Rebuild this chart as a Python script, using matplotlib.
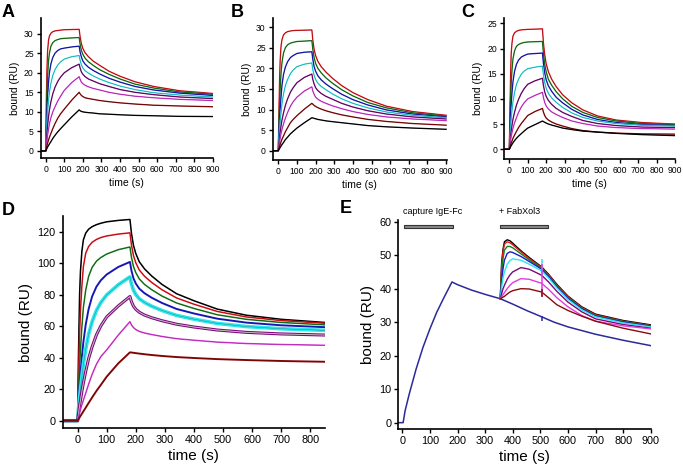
import matplotlib.pyplot as plt

plt.rcParams['font.family'] = ['Liberation Sans', 'DejaVu Sans']

RED, GREEN, BLUE, CYAN = '#e8141c', '#1a801a', '#1c1cc8', '#2ce6ec'
PURPLE, MAGENTA, DARKRED, BLACK, NAVY = '#7a0a78', '#e03ce0', '#8c0a0a', '#000000', '#2a2a9a'

# ---- panels A-C: 8 concentrations, association 0-180 s, dissociation to 900 s
T_ABC = [-30, 0, 3, 7, 10, 15, 20, 28, 38, 50, 65, 80, 100, 140, 180,
         185, 192, 200, 212, 230, 255, 290, 340, 400, 480, 580, 720, 900]
colors_ABC = [RED, GREEN, BLUE, CYAN, PURPLE, MAGENTA, DARKRED, BLACK]

A_y = [
    [0, 0, 12.5, 21.5, 25.5, 28.3, 29.4, 30.1, 30.5, 30.7, 30.8, 30.9, 31.0, 31.05, 31.1,
     29.2, 27.4, 26.2, 25.1, 24.1, 23.0, 21.9, 20.4, 19.1, 17.7, 16.5, 15.4, 14.7],
    [0, 0, 7.5, 15, 19, 23, 25, 26.8, 27.7, 28.2, 28.5, 28.7, 28.8, 28.9, 29.0,
     27.3, 25.7, 24.7, 23.7, 22.8, 21.9, 20.8, 19.6, 18.4, 17.1, 16.1, 15.1, 14.5],
    [0, 0, 5, 11, 14, 17.5, 20, 22.3, 23.9, 25.0, 25.7, 26.1, 26.3, 26.6, 26.8,
     25.3, 24.0, 23.0, 22.2, 21.4, 20.6, 19.7, 18.6, 17.6, 16.5, 15.6, 14.8, 14.2],
    [0, 0, 3.4, 7.5, 10, 12.8, 15, 17.3, 19.3, 20.8, 22.0, 22.8, 23.5, 24.1, 24.4,
     23.2, 22.0, 21.2, 20.5, 19.9, 19.2, 18.4, 17.5, 16.6, 15.7, 14.9, 14.3, 13.8],
    [0, 0, 2.1, 4.7, 6.5, 8.7, 10.5, 12.6, 14.6, 16.3, 17.8, 18.9, 20.0, 21.3, 22.2,
     21.2, 20.2, 19.6, 19.0, 18.4, 17.9, 17.2, 16.5, 15.7, 15.0, 14.4, 13.8, 13.4],
    [0, 0, 1.2, 2.8, 4, 5.5, 7, 8.5, 10.0, 11.3, 12.8, 14.0, 15.5, 17.5, 19.0,
     18.3, 17.6, 17.2, 16.8, 16.4, 16.0, 15.6, 15.0, 14.5, 14.0, 13.6, 13.2, 12.9],
    [0, 0, 0.6, 1.4, 2, 2.8, 3.5, 4.5, 5.7, 7.0, 8.4, 9.5, 10.7, 13.0, 15.0,
     14.6, 14.2, 13.9, 13.6, 13.4, 13.2, 12.9, 12.6, 12.3, 12.0, 11.7, 11.5, 11.3],
    [0, 0, 0.3, 0.7, 1, 1.4, 1.8, 2.4, 3.2, 4.0, 4.9, 5.7, 6.7, 8.7, 10.5,
     10.3, 10.1, 10.0, 9.9, 9.8, 9.7, 9.5, 9.4, 9.25, 9.1, 9.0, 8.85, 8.8],
]
B_y = [
    [0, 0, 9, 17.5, 22, 25.5, 27, 28.1, 28.6, 28.9, 29.05, 29.15, 29.2, 29.25, 29.3,
     26.9, 24.6, 23.1, 21.7, 20.4, 19.1, 17.6, 15.8, 14.1, 12.4, 10.8, 9.5, 8.6],
    [0, 0, 5.5, 11.5, 15, 19, 21.5, 23.7, 25.0, 25.7, 26.1, 26.3, 26.5, 26.6, 26.7,
     24.6, 22.6, 21.2, 20.0, 18.9, 17.7, 16.4, 14.8, 13.3, 11.7, 10.4, 9.2, 8.4],
    [0, 0, 3.7, 7.8, 10, 13.3, 16, 18.5, 20.3, 21.6, 22.6, 23.1, 23.6, 23.9, 24.0,
     22.2, 20.4, 19.3, 18.2, 17.2, 16.2, 15.1, 13.7, 12.4, 11.1, 9.9, 8.9, 8.2],
    [0, 0, 2.5, 5.3, 7, 9.4, 11.5, 13.8, 15.8, 17.3, 18.7, 19.6, 20.4, 21.0, 21.3,
     19.7, 18.3, 17.3, 16.4, 15.6, 14.8, 13.8, 12.6, 11.5, 10.4, 9.4, 8.6, 8.0],
    [0, 0, 1.5, 3.4, 4.5, 6.1, 7.5, 9.2, 11.0, 12.6, 14.2, 15.3, 16.5, 17.8, 18.6,
     17.3, 16.2, 15.3, 14.6, 13.9, 13.2, 12.5, 11.5, 10.6, 9.7, 8.9, 8.2, 7.7],
    [0, 0, 1.0, 2.2, 3, 4.2, 5.2, 6.5, 7.9, 9.3, 10.8, 11.9, 13.0, 14.5, 15.5,
     14.5, 13.7, 13.0, 12.5, 12.0, 11.5, 10.9, 10.2, 9.5, 8.8, 8.2, 7.7, 7.3],
    [0, 0, 0.5, 1.1, 1.5, 2.2, 2.8, 3.6, 4.6, 5.6, 6.8, 7.6, 8.5, 10.1, 11.5,
     11.3, 11.0, 10.75, 10.45, 10.1, 9.7, 9.25, 8.7, 8.2, 7.6, 7.1, 6.6, 6.2],
    [0, 0, 0.25, 0.55, 0.8, 1.15, 1.5, 2.0, 2.7, 3.3, 4.1, 4.7, 5.5, 6.8, 8.0,
     7.95, 7.85, 7.75, 7.6, 7.45, 7.25, 7.05, 6.8, 6.5, 6.1, 5.8, 5.5, 5.2],
]
C_y = [
    [0, 0, 7.5, 15, 19, 21.3, 22.5, 23.1, 23.4, 23.6, 23.7, 23.75, 23.8, 23.85, 23.9,
     21.2, 18.8, 17.0, 15.4, 13.9, 12.4, 10.8, 9.2, 7.8, 6.6, 5.8, 5.3, 5.0],
    [0, 0, 5, 10.3, 13, 16, 18, 19.5, 20.4, 20.8, 21.05, 21.2, 21.3, 21.35, 21.4,
     19.1, 16.9, 15.4, 13.9, 12.7, 11.4, 10.0, 8.5, 7.3, 6.3, 5.6, 5.1, 4.9],
    [0, 0, 3, 7, 9, 11.5, 13.5, 15.4, 16.8, 17.7, 18.3, 18.6, 18.9, 19.0, 19.1,
     17.1, 15.2, 13.8, 12.6, 11.5, 10.3, 9.2, 7.9, 6.8, 5.9, 5.3, 4.9, 4.7],
    [0, 0, 2, 4.5, 6, 7.9, 9.5, 11.2, 12.8, 13.9, 14.9, 15.5, 16.0, 16.3, 16.5,
     14.8, 13.3, 12.1, 11.1, 10.2, 9.3, 8.3, 7.2, 6.3, 5.6, 5.1, 4.75, 4.6],
    [0, 0, 1.2, 2.7, 3.5, 4.9, 6, 7.3, 8.7, 9.9, 11.1, 12.0, 12.9, 13.6, 14.1,
     12.7, 11.4, 10.5, 9.7, 8.9, 8.1, 7.3, 6.5, 5.7, 5.1, 4.7, 4.4, 4.3],
    [0, 0, 0.8, 1.8, 2.5, 3.4, 4.2, 5.2, 6.2, 7.3, 8.4, 9.2, 10.0, 10.7, 11.3,
     10.3, 9.3, 8.6, 8.0, 7.4, 6.9, 6.3, 5.6, 5.1, 4.6, 4.3, 4.1, 4.0],
    [0, 0, 0.4, 0.9, 1.2, 1.7, 2.2, 2.8, 3.5, 4.3, 5.1, 5.8, 6.7, 7.5, 8.1,
     7.4, 6.7, 6.2, 5.8, 5.4, 5.0, 4.6, 4.1, 3.7, 3.4, 3.2, 3.05, 3.0],
    [0, 0, 0.2, 0.5, 0.7, 1.0, 1.3, 1.7, 2.15, 2.6, 3.1, 3.6, 4.2, 4.9, 5.6,
     5.5, 5.35, 5.2, 5.0, 4.8, 4.55, 4.2, 3.9, 3.6, 3.4, 3.15, 2.9, 2.7],
]

# ---- panel D
T_D = [-50, 0, 3, 7, 10, 15, 20, 28, 38, 50, 65, 80, 100, 140, 180,
       185, 192, 200, 212, 230, 255, 290, 340, 400, 480, 580, 700, 850]
colors_D = [BLACK, RED, GREEN, BLUE, CYAN, PURPLE, MAGENTA, DARKRED]
D_y = [
    [0, 0, 40, 80, 95, 108, 115, 119.3, 121.8, 123.4, 124.7, 125.6, 126.5, 127.4, 128,
     119.5, 111.6, 106.4, 101.1, 96.6, 92.0, 86.7, 80.8, 76.3, 71.0, 67.1, 64.5, 62.5],
    [0, 0, 25, 55, 70, 86, 98, 106.5, 110.8, 113.5, 115.3, 116.5, 117.5, 118.7, 119.5,
     112.0, 105.1, 100.5, 95.9, 91.9, 87.9, 83.3, 78.1, 74.1, 69.5, 66.0, 63.7, 62.0],
    [0, 0, 15, 35, 45, 60, 72, 83, 91.8, 97.5, 101.5, 103.8, 106, 108.8, 110.5,
     104.1, 98.1, 94.2, 90.2, 86.7, 83.3, 79.3, 74.9, 71.4, 67.4, 64.5, 62.5, 61.0],
    [0, 0, 10, 23, 30, 41, 50, 61, 71, 79, 85.3, 89.3, 93, 97.8, 101,
     95.6, 90.6, 87.3, 84.0, 81.1, 78.2, 74.9, 71.1, 68.2, 64.9, 62.4, 60.7, 59.5],
    [0, 0, 6.5, 15, 20, 28.5, 36, 45.5, 55, 63, 70.2, 75.2, 80, 86.5, 91.5,
     87.1, 83.0, 80.3, 77.6, 75.2, 72.8, 70.1, 67.0, 64.6, 61.9, 59.9, 58.5, 57.5],
    [0, 0, 4.2, 9.6, 13, 18.8, 24, 31.3, 39.5, 47, 54.7, 60.3, 66, 73, 79,
     75.8, 72.9, 70.9, 69.0, 67.2, 65.5, 63.6, 61.4, 59.6, 57.7, 56.2, 55.2, 54.5],
    [0, 0, 2.1, 5.0, 7, 10.2, 13, 17.5, 23.2, 29.5, 36, 40.8, 45, 54.5, 63,
     61.0, 59.3, 58.0, 56.8, 55.8, 54.8, 53.6, 52.2, 51.2, 50.0, 49.1, 48.5, 48.0],
    [0, 0, 0.9, 2.1, 3, 4.5, 6, 8.3, 11.3, 14.8, 19, 22.8, 28, 36.5, 43.5,
     43.4, 43.2, 43.0, 42.7, 42.3, 41.8, 41.2, 40.5, 39.9, 39.2, 38.6, 38.0, 37.5],
]

# ---- panel E: IgE-Fc capture, then FabXol3 injections
T_cap = [-15, 0, 3, 10, 25, 50, 75, 100, 125, 150, 180, 200, 250, 300, 355, 400, 450, 505, 550, 600, 700, 800, 900]
cap_y = [0, 0, 0, 3.5, 8.5, 16, 22.5, 28, 33, 37.2, 42, 41.2, 39.6, 38.3, 37, 35.4, 33.5, 31.6, 30, 28.6, 26.4, 24.6, 23]
T_E = [355, 360, 365, 370, 380, 390, 400, 430, 460, 505, 530, 560, 600, 650, 700, 800, 900]
colors_E = [BLACK, RED, GREEN, BLUE, CYAN, PURPLE, MAGENTA, DARKRED]
E_y = [
    [37, 48, 51.8, 54, 54.6, 54.3, 53.6, 51.3, 49.3, 46.5, 44.3, 41.3, 37.8, 34.6, 32.4, 30.5, 29.2],
    [37, 47, 51, 53.3, 54, 53.7, 53.1, 51, 49, 46.3, 44.1, 41.1, 37.6, 34.4, 32.2, 30.3, 29.0],
    [37, 45, 49, 51.5, 52.6, 52.6, 52.2, 50.4, 48.6, 46.1, 43.9, 40.9, 37.4, 34.2, 32.0, 30.2, 28.9],
    [37, 42.5, 46, 48.5, 50.5, 51, 50.8, 49.6, 48.1, 45.8, 43.6, 40.6, 37.1, 34.0, 31.8, 30.0, 28.8],
    [37, 40.5, 43.2, 45, 47.3, 48.4, 48.9, 48.5, 47.3, 45.3, 43.2, 40.2, 36.8, 33.7, 31.6, 29.8, 28.6],
    [37, 38.5, 40, 41, 42.8, 44.1, 45.0, 46.3, 45.8, 44.0, 42.0, 39.2, 36.0, 33.1, 31.0, 29.3, 28.2],
    [37, 37.6, 38.2, 38.8, 40, 41.0, 41.8, 43.0, 42.8, 41.6, 39.8, 37.3, 34.6, 32.0, 30.3, 28.9, 28.0],
    [37, 37.2, 37.5, 37.7, 38.4, 39.0, 39.4, 40, 39.9, 39.0, 37.3, 35.2, 33.5, 31.8, 30.3, 28.2, 26.5],
]
# injection artefacts (vertical spikes) at 505 s
spike_t = 505
spike_colors = [CYAN, MAGENTA, DARKRED, NAVY]
spike_lo = [44.0, 37.8, 37.5, 30.3]
spike_hi = [48.8, 47.3, 40.0, 31.8]
bars = [(7, 182, 'capture IgE-Fc'), (354, 529, '+ FabXol3')]


def style(ax, xlim, ylim, xticks, yticks, fs_tick, fs_lab):
    for s in ['top', 'right']:
        ax.spines[s].set_visible(False)
    for s in ['left', 'bottom']:
        ax.spines[s].set_linewidth(1.2)
    ax.set_xlim(*xlim); ax.set_ylim(*ylim)
    ax.set_xticks(xticks); ax.set_yticks(yticks)
    ax.tick_params(direction='out', length=3, width=1, labelsize=fs_tick, pad=2)
    ax.set_xlabel('time (s)', fontsize=fs_lab, labelpad=3)
    ax.set_ylabel('bound (RU)', fontsize=fs_lab, labelpad=3)
    ax.patch.set_alpha(0)


def curves(ax, t, ys, cols, lw):
    for y, c in zip(ys, cols):
        ax.plot(t, y, color=c, lw=lw, solid_joinstyle='round')
        ax.plot(t, y, color='k', lw=0.3, alpha=0.45)


fig = plt.figure(figsize=(6.83, 4.69), dpi=100)
W, H = 683, 469


def add_ax(l, r, t, b):
    return fig.add_axes([l / W, 1 - b / H, (r - l) / W, (b - t) / H])


axA = add_ax(40.7, 213, 18, 158)
axB = add_ax(272.7, 446.5, 18, 160)
axC = add_ax(504, 675, 18.3, 159.3)
axD = add_ax(62.7, 325, 216, 428.3)
axE = add_ax(398.3, 650.7, 220, 428.7)

xt = range(0, 901, 100)
curves(axA, T_ABC, A_y, colors_ABC, 0.95)
style(axA, (-27, 900), (-1.8, 34), xt, range(0, 31, 5), 6.2, 7.5)
curves(axB, T_ABC, B_y, colors_ABC, 0.95)
style(axB, (-30, 902), (-2.25, 32.2), xt, range(0, 31, 5), 6.2, 7.5)
curves(axC, T_ABC, C_y, colors_ABC, 0.95)
style(axC, (-29, 900), (-2.0, 26.0), xt, range(0, 26, 5), 6.2, 7.5)

lwD = [1.1, 1.1, 1.1, 1.4, 2.6, 2.2, 1.1, 1.4]
for y, c, lw in zip(D_y, colors_D, lwD):
    axD.plot(T_D, y, color=c, lw=lw, solid_joinstyle='round')
    if c == PURPLE:
        axD.plot(T_D, y, color='white', lw=0.6)
    axD.plot(T_D, y, color='k', lw=0.3, alpha=0.4)
style(axD, (-51, 850), (-4.8, 130.2), range(0, 801, 100), range(0, 121, 20), 7.8, 11)

axE.plot(T_cap, cap_y, color=NAVY, lw=1.1, solid_joinstyle='round')
for y, c in zip(E_y, colors_E):
    axE.plot(T_E, y, color=c, lw=1.0, solid_joinstyle='round')
axE.vlines([spike_t] * len(spike_lo), spike_lo, spike_hi, colors=spike_colors, lw=1.1)
for x0, x1, lab in bars:
    axE.add_patch(plt.Rectangle((x0, 58.1), x1 - x0, 0.9, facecolor='#8a8a8a',
                                edgecolor='#333333', lw=0.8, clip_on=False))
    axE.text(x0 - 5, 61.8, lab, fontsize=6.5, ha='left', va='bottom', clip_on=False)
style(axE, (-14.5, 900), (-1.8, 60.5), xt, range(0, 61, 10), 7.8, 11)

for lab, x, y in [('A', 2, 4), ('B', 231, 4), ('C', 461, 4), ('D', 2, 202), ('E', 340, 200)]:
    fig.text(x / W, 1 - y / H, lab, fontsize=13, fontweight='bold', ha='left', va='top')

fig.savefig('out.png', dpi=100)
